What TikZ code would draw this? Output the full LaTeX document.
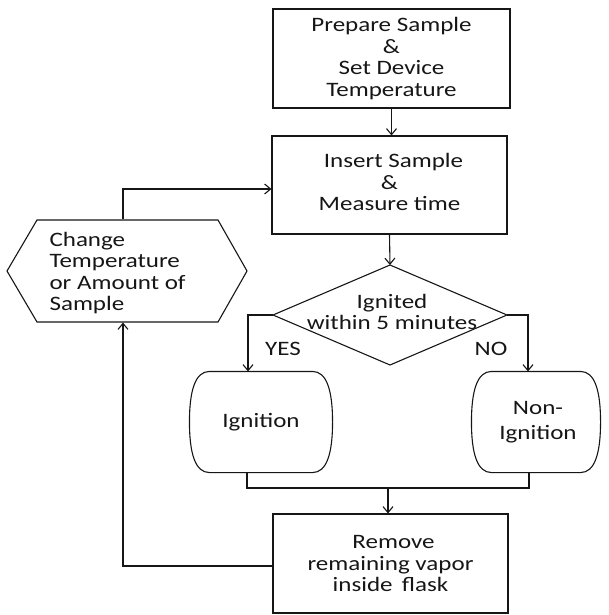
\documentclass[tikz,border=0pt]{standalone}
\usepackage{fontspec}
\setmainfont{Carlito}[FakeStretch=1.22]
\usetikzlibrary{arrows.meta,calc}
\definecolor{ink}{RGB}{22,22,22}
\newcommand\termshape[1]{%
  \draw ($(#1.north west)+(20,0)$) -- ($(#1.north east)+(-20,0)$)
    .. controls ($(#1.north east)+(-6,0)$) and ($(#1.east)+(0,-32)$) .. (#1.east)
    .. controls ($(#1.east)+(0,32)$) and ($(#1.south east)+(-6,0)$) .. ($(#1.south east)+(-20,0)$)
    -- ($(#1.south west)+(20,0)$)
    .. controls ($(#1.south west)+(6,0)$) and ($(#1.west)+(0,32)$) .. (#1.west)
    .. controls ($(#1.west)+(0,-32)$) and ($(#1.north west)+(6,0)$) .. cycle;}
\begin{document}
\begin{tikzpicture}[x=1pt,y=-1pt,
  color=ink, line width=1.1pt,
  txt/.style={font=\fontsize{20.5}{21.5}\selectfont, align=center, inner sep=0pt},
  box/.style={txt, draw, minimum width=235pt, minimum height=99pt},
  term/.style={txt, minimum height=100pt},
  arr/.style={-{Straight Barb[length=6pt,width=10pt]}}]
\useasboundingbox (0,0) rectangle (608,615);

% boxes
\node[box, minimum width=237pt] (b1) at (391.5,58.5) {Prepare Sample\\\&\\Set Device\\Temperature};
\node[box, minimum height=98pt] (b2) at (389.5,185) {\raisebox{4pt}{\begin{tabular}{@{}c@{}}\hspace{8pt}Insert Sample\\\&\\Measure time\end{tabular}}};
\node[box] (b3) at (390.5,563.5) {\hspace{6pt}Remove\\remaining vapor\\inside\hspace{0.45em}flask};

% decision
\coordinate (dT) at (390,265);
\coordinate (dR) at (507,315);
\coordinate (dB) at (390,365);
\coordinate (dL) at (273,315);
\draw (dT) -- (dR) -- (dB) -- (dL) -- cycle;
\node[txt] (dtext) at (392,312) {Ignited\\within 5 minutes};

% terminals
\node[term, minimum width=142pt] (ign) at (261,422) {Ignition};
\termshape{ign}
\node[term, minimum width=128pt, font=\fontsize{20.5}{25}\selectfont] (non) at (536,422) {\raisebox{-6pt}{\begin{tabular}{@{}c@{}}\hspace{4pt}Non-\\\hspace{4pt}Ignition\end{tabular}}};
\termshape{non}

% hexagon
\coordinate (h1) at (7,271);
\coordinate (h2) at (37,220);
\coordinate (h3) at (218,220);
\coordinate (h4) at (247,271);
\coordinate (h5) at (218,322);
\coordinate (h6) at (37,322);
\draw (h1) -- (h2) -- (h3) -- (h4) -- (h5) -- (h6) -- cycle;
\node[minimum width=240pt, minimum height=102pt, inner sep=0pt] (hex) at (127,271) {};
\node[txt, align=left, anchor=west] (htext) at (49,273) {Change\\Temperature\\or Amount of\\Sample};

% labels
\node[txt] (yes) at (283,349) {YES};
\node[txt] (no) at (491,349) {NO};

% connectors
\draw[arr] (b1.south) -- (b1.south |- b2.north);
\draw[arr] (b2.south) -- (dT);
\coordinate (yc) at (248,315);
\coordinate (nc) at (528,315);
\draw[arr] (dL) -- (yc) -- (yc |- ign.north);
\draw[arr] (dR) -- (nc) -- (nc |- non.north);
\coordinate (j1) at (247,488);
\coordinate (j2) at (529,488);
\coordinate (jm) at (388,488);
\draw (j1 |- ign.south) -- (j1) -- (j2) -- (j2 |- non.south);
\draw[arr] (jm) -- (jm |- b3.north);
\coordinate (lc) at (123,566);
\coordinate (tc) at (123,189);
\draw[arr] (b3.west |- lc) -- (lc) -- (lc |- hex.south);
\draw[arr] (lc |- hex.north) -- (tc) -- (tc -| b2.west);
\end{tikzpicture}
\end{document}
